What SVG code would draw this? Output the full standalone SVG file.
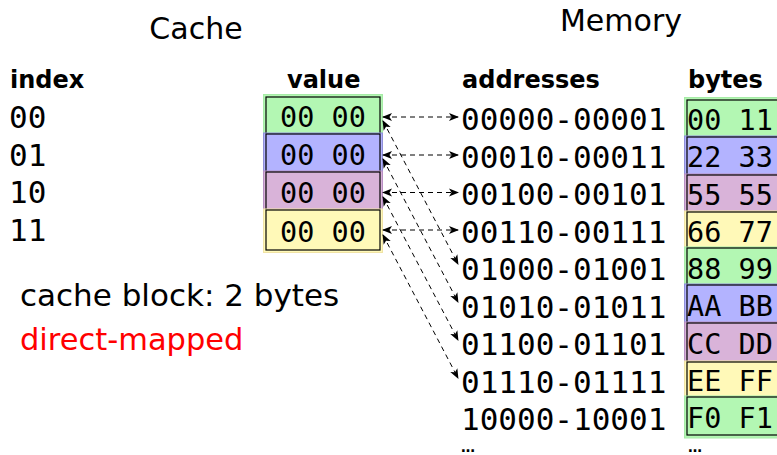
<svg xmlns="http://www.w3.org/2000/svg" width="777" height="455" viewBox="0 0 777 455">
<style>
.sans{font-family:"DejaVu Sans","Liberation Sans",sans-serif;}
.title{font-size:30px;fill:#000;}
.head{font-size:24px;font-weight:bold;fill:#000;}
.mono{font-family:"DejaVu Sans Mono","Liberation Mono",monospace;fill:#000;}
.big{font-size:31px;}
.cell{font-size:28.5px;}
.dots{font-size:14px;font-weight:bold;}
.box{fill:none;stroke:#000;stroke-width:1.2;}
.g{fill:#b3f7b3;stroke:#a6eba6;}
.b{fill:#b3b3ff;stroke:#8f8fd9;}
.p{fill:#d9b3d9;stroke:#b88fc4;}
.y{fill:#fff9b8;stroke:#f0e3a6;}
.conn{stroke:#000;stroke-width:1;stroke-dasharray:5 4;fill:none;marker-start:url(#ah);marker-end:url(#ah);}
</style>
<defs>
<marker id="ah" viewBox="0 0 10 10" refX="9" refY="5" markerWidth="10" markerHeight="10" markerUnits="userSpaceOnUse" orient="auto-start-reverse">
<path d="M0,1 L10,5 L0,9 L2.5,5 Z" fill="#000"/>
</marker>
</defs>
<rect width="777" height="455" fill="#fff"/>
<text class="sans title" x="196" y="39" text-anchor="middle">Cache</text>
<text class="sans title" x="621" y="31" text-anchor="middle">Memory</text>
<text class="sans head" x="10" y="88">index</text>
<text class="sans head" x="287" y="88">value</text>
<text class="sans head" x="462" y="88">addresses</text>
<text class="sans head" x="688" y="88">bytes</text>
<g id="index-labels">
<text class="mono big" x="9" y="128">00</text>
<text class="mono big" x="9" y="165.5">01</text>
<text class="mono big" x="9" y="203">10</text>
<text class="mono big" x="9" y="240.5">11</text>
</g>
<g id="cache-row-00"><rect class="g" x="263.5" y="94.5" width="119" height="41"/><rect class="box" x="266" y="97" width="114" height="37"/><text class="mono cell" x="323" y="127" text-anchor="middle">00 00</text></g>
<g id="cache-row-01"><rect class="b" x="263.5" y="133" width="119" height="40"/><rect class="box" x="266" y="134" width="114" height="38"/><text class="mono cell" x="323" y="165" text-anchor="middle">00 00</text></g>
<g id="cache-row-10"><rect class="p" x="263.5" y="171" width="119" height="40"/><rect class="box" x="266" y="172" width="114" height="38"/><text class="mono cell" x="323" y="203" text-anchor="middle">00 00</text></g>
<g id="cache-row-11"><rect class="y" x="263.5" y="209" width="119" height="43.5"/><rect class="box" x="266" y="210" width="114" height="40"/><text class="mono cell" x="323" y="242" text-anchor="middle">00 00</text></g>
<g id="addresses">
<text class="mono big" x="461" y="130">00000-00001</text>
<text class="mono big" x="461" y="167.5">00010-00011</text>
<text class="mono big" x="461" y="205">00100-00101</text>
<text class="mono big" x="461" y="242.5">00110-00111</text>
<text class="mono big" x="461" y="280">01000-01001</text>
<text class="mono big" x="461" y="317.5">01010-01011</text>
<text class="mono big" x="461" y="355">01100-01101</text>
<text class="mono big" x="461" y="392.5">01110-01111</text>
<text class="mono big" x="461" y="430">10000-10001</text>
<text class="sans dots" x="461" y="452">…</text>
</g>
<g id="mem-bytes">
<g id="mem-0"><rect class="g" x="684.5" y="97.5" width="100" height="40"/><rect class="box" x="687" y="100" width="100" height="37"/><text class="mono cell" x="687" y="130">00 11</text></g>
<g id="mem-1"><rect class="b" x="684.5" y="136" width="100" height="39.5"/><rect class="box" x="687" y="137" width="100" height="38"/><text class="mono cell" x="687" y="167">22 33</text></g>
<g id="mem-2"><rect class="p" x="684.5" y="174" width="100" height="39"/><rect class="box" x="687" y="175" width="100" height="37"/><text class="mono cell" x="687" y="205">55 55</text></g>
<g id="mem-3"><rect class="y" x="684.5" y="211" width="100" height="38"/><rect class="box" x="687" y="212" width="100" height="36"/><text class="mono cell" x="687" y="242">66 77</text></g>
<g id="mem-4"><rect class="g" x="684.5" y="247" width="100" height="39"/><rect class="box" x="687" y="248" width="100" height="37"/><text class="mono cell" x="687" y="279">88 99</text></g>
<g id="mem-5"><rect class="b" x="684.5" y="284" width="100" height="40"/><rect class="box" x="687" y="285" width="100" height="38"/><text class="mono cell" x="687" y="316">AA BB</text></g>
<g id="mem-6"><rect class="p" x="684.5" y="322" width="100" height="41"/><rect class="box" x="687" y="323" width="100" height="39"/><text class="mono cell" x="687" y="354">CC DD</text></g>
<g id="mem-7"><rect class="y" x="684.5" y="361" width="100" height="37"/><rect class="box" x="687" y="362" width="100" height="35"/><text class="mono cell" x="687" y="391">EE FF</text></g>
<g id="mem-8"><rect class="g" x="684.5" y="396" width="100" height="42"/><rect class="box" x="687" y="397" width="100" height="38"/><text class="mono cell" x="687" y="428">F0 F1</text></g>
<text class="sans dots" x="688" y="452">…</text>
</g>
<g id="connectors">
<line class="conn" x1="383" y1="117" x2="458" y2="117"/>
<line class="conn" x1="383" y1="155" x2="458" y2="155"/>
<line class="conn" x1="383" y1="192.5" x2="458" y2="192.5"/>
<line class="conn" x1="383" y1="230" x2="458" y2="230"/>
<line class="conn" x1="383" y1="121" x2="458" y2="264"/>
<line class="conn" x1="383" y1="159" x2="458" y2="302"/>
<line class="conn" x1="383" y1="197" x2="458" y2="340"/>
<line class="conn" x1="383" y1="235" x2="458" y2="378"/>
</g>
<text class="sans" x="20" y="306" font-size="31">cache block: 2 bytes</text>
<text class="sans" x="20" y="350" font-size="30.5" fill="#ff0000">direct-mapped</text>
</svg>
